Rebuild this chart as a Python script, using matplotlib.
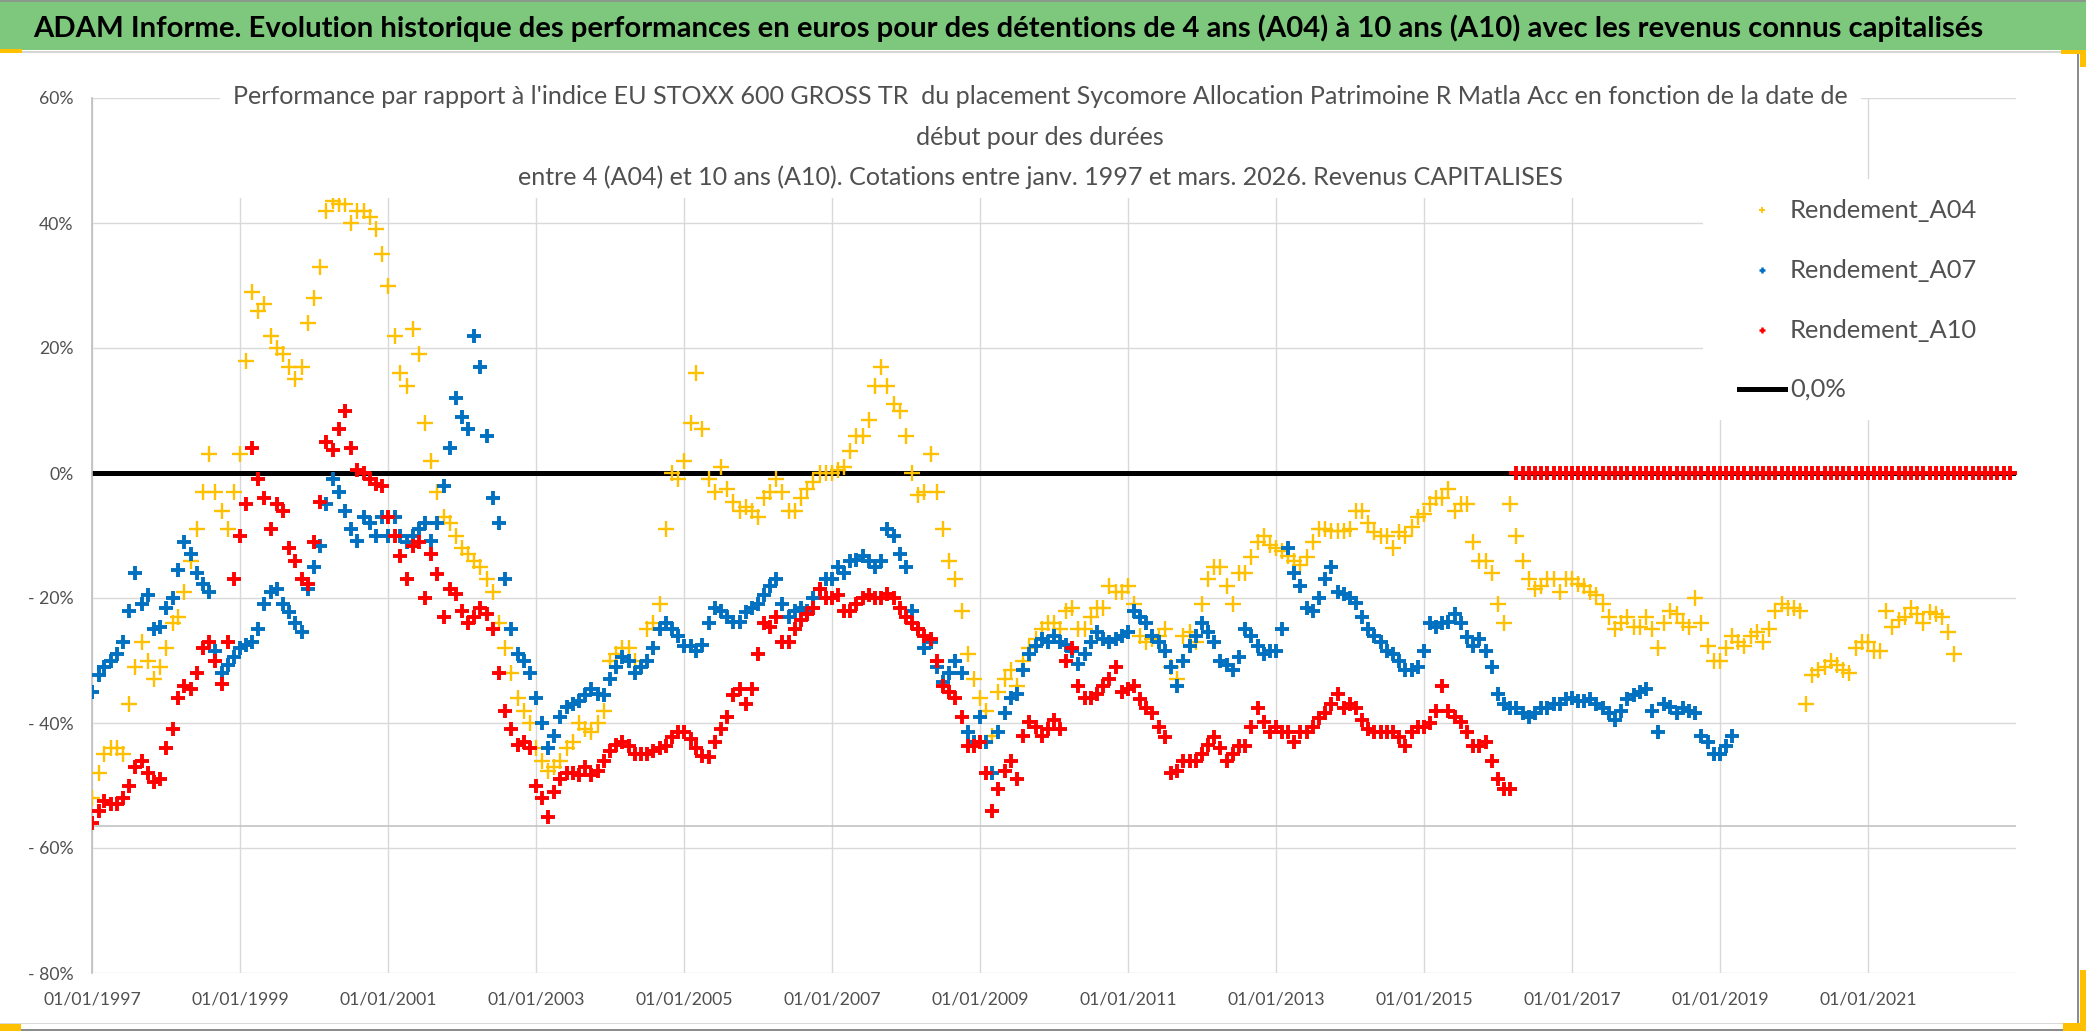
import numpy as np
import pandas as pd
import matplotlib
matplotlib.use("Agg")
import matplotlib.pyplot as plt
import matplotlib.dates as mdates
from matplotlib.patches import Rectangle
from matplotlib.lines import Line2D

# ---------------- data (monthly readings, % performance) ----------------
TITLE = ("ADAM Informe. Evolution historique des performances en euros pour des détentions "
         "de 4 ans (A04) à 10 ans (A10) avec les revenus connus capitalisés")
SUB1 = ("Performance par rapport à l'indice EU STOXX 600 GROSS TR  du placement Sycomore "
        "Allocation Patrimoine R Matla Acc en fonction de la date de")
SUB2 = "début pour des durées"
SUB3 = ("entre 4 (A04) et 10 ans (A10). Cotations entre janv. 1997 et mars. 2026. "
        "Revenus CAPITALISES")

START = "1997-01-01"

A04 = [
    -52, -48, -45, -44, -44, -45, -37, -31, -27, -30, -33, -31,          # 1997
    -28, -24, -23, -19, -14, -9, -3, 3, -3, -6, -9, -3,                  # 1998
    3, 18, 29, 26, 27, 22, 20, 19, 17, 15, 17, 24,                       # 1999
    28, 33, 42, 43.5, 43, 43, 40, 42, 42, 41, 39, 35,                    # 2000
    30, 22, 16, 14, 23, 19, 8, 2, -3, -7, -8, -10,                       # 2001
    -12, -13, -14, -15, -17, -19, -24, -28, -32, -36, -38, -40,          # 2002
    -44, -46, -47.6, -47, -46, -44, -43, -40, -41, -41.5, -40, -38,      # 2003
    -30, -29, -28, -28, -30, -31, -25, -24, -21, -9, 0, -1,              # 2004
    2, 8, 16, 7, -1, -3, 1, -2.5, -4.7, -6, -5.5, -6,                    # 2005
    -7, -4, -3, -1, -3, -6, -6, -4, -2.5, -1.5, 0, 0,                    # 2006
    0, 0.5, 1, 3.5, 6, 6, 8.5, 14, 17, 14, 11, 10,                       # 2007
    6, 0, -3.5, -3, 3, -3, -9, -14, -17, -22, -29, -33,                  # 2008
    -36, -38, -42, -35, -33, -31.5, -34, -30, -28, -26.5, -25, -24,      # 2009
    -24, -25, -22, -21.6, -25, -25, -23, -21.6, -21.6, -18, -19, -19,    # 2010
    -18, -21, -26, -27, -26.5, -26, -25, -31, -33, -26, -25.5, -27,      # 2011
    -21, -17, -15, -15, -18, -21, -16, -16, -13.5, -11, -10, -11.5,      # 2012
    -12, -12.5, -13.2, -14, -14.7, -13.5, -11, -9, -9, -9.3, -9.3, -9.3, # 2013
    -9, -6, -6, -8, -9.5, -10, -10, -12, -9.5, -10, -8.6, -7,            # 2014
    -6.5, -5, -4, -4, -2.5, -6, -5, -5, -11, -14, -14, -16,              # 2015
    -21, -24, -5, -10, -14, -17, -18.5, -18, -17, -17, -19, -17,         # 2016
    -17, -17.7, -18, -19, -19.5, -21, -23, -25, -24, -23, -24.6, -24.6,  # 2017
    -23, -25, -28, -24, -22, -22.5, -24, -24.6, -20, -24, -27.7, -30,    # 2018
    -30, -28, -26, -27, -27.7, -26, -25.4, -27, -25, -22, -21, -21.6,    # 2019
    -21.6, -22, -37, -32.3, -31.5, -31, -30, -30.7, -31.5, -32, -28, -27,  # 2020
    -27, -28.5, -28.5, -22, -24.6, -23.5, -23, -21.6, -22.5, -24, -22.3, -22.5,  # 2021
    -23, -25.4, -29,                                                     # 2022
]

A07 = [
    -35, -32.3, -31, -30, -29, -27, -22, -16, -21, -19.5, -25, -24.6,    # 1997
    -21.6, -20, -15.5, -11, -13, -16, -17.7, -19, -28.5, -32, -30.7, -29.5,  # 1998
    -28, -27.5, -27, -25, -21, -19, -18.5, -21, -22.3, -24, -25.4, -18.5,    # 1999
    -15, -11.6, -5, -1, -3, -6, -9, -10.9, -7, -8, -10, -7,              # 2000
    -10, -7, -10, -11, -10, -9, -8, -10.9, -8, -2, 4, 12,                # 2001
    9, 7, 22, 17, 6, -4, -8, -17, -25, -29, -30, -32,                    # 2002
    -36, -40, -44, -42, -39, -37.5, -37, -36.5, -35.5, -34.6, -35.3, -35.5,  # 2003
    -33, -31, -29.5, -30, -32, -31, -30, -28, -25, -24, -25, -26,        # 2004
    -27.7, -27.7, -28.5, -27.5, -24, -21.6, -22, -23, -23.9, -23.9, -22.3, -21.6,  # 2005
    -21, -19.5, -18, -17, -21, -23, -22, -21.6, -22, -20, -18.5, -17,    # 2006
    -17, -15, -16, -14, -13.9, -13.2, -14, -15, -14, -9, -10, -13,       # 2007
    -15, -22, -25, -28, -27, -31, -33.5, -32, -30, -32, -41.5, -43,      # 2008
    -39, -43, -48, -41.5, -38.4, -36, -35.3, -31.5, -29, -27.7, -26.5, -27,  # 2009
    -26, -27, -27.5, -28.5, -30.5, -29, -27, -25.4, -26.5, -27, -26.5, -26,  # 2010
    -25.5, -22, -23, -24, -26, -27, -28.5, -31, -34, -30, -27.7, -26,    # 2011
    -24, -25.4, -27, -30, -30.7, -31.5, -29.5, -25, -26, -27.7, -29, -28.5,  # 2012
    -28.5, -25, -12, -16, -18, -21.6, -22, -20, -17, -15, -19, -19.3,    # 2013
    -20, -20.8, -23, -25, -26, -27, -28.5, -29, -30, -31.5, -31.5, -31,  # 2014
    -28.5, -24, -24.6, -24, -23.9, -22.5, -24, -26.2, -27.7, -26.5, -28.5, -31,  # 2015
    -35.3, -37, -37.6, -37.6, -38.4, -39, -38.4, -37.6, -37.6, -37, -36.9, -36.1,  # 2016
    -36, -36.5, -36.5, -36.1, -37, -37.6, -38.4, -39.5, -38, -36.1, -35.5, -35,  # 2017
    -34.6, -38, -41.5, -37, -37.5, -38.4, -37.6, -38, -38.4, -42, -43, -45,  # 2018
    -45, -43.7, -42,                                                     # 2019
]

A10 = [
    -56, -54, -52.5, -53, -53, -52, -50, -47, -46, -48, -49.5, -49,      # 1997
    -44, -41, -36, -34, -34.6, -32, -28, -27, -30, -33.8, -27, -17,      # 1998
    -10, -5, 4, -1, -4, -9, -5, -6, -12, -14, -17, -17.7,                # 1999
    -11, -4.7, 5, 3.7, 7, 10, 4, 0.5, 0, -1, -1.7, -2,                   # 2000
    -7, -10, -13.2, -17, -11.6, -11, -20, -13, -16.2, -23, -18.5, -19.3, # 2001
    -22, -24, -23, -21.6, -22.5, -25, -32, -38, -41, -43.5, -43, -44,    # 2002
    -50, -52, -55, -51, -49, -48, -48, -48.3, -47, -48.3, -47.6, -46,    # 2003
    -44.5, -43.5, -43, -43.7, -45, -45, -44.9, -44.5, -44, -43.7, -42.2, -41.5,  # 2004
    -41.5, -42.5, -44, -45.3, -45.5, -43, -41, -39, -35.5, -34.6, -36.9, -34.6,  # 2005
    -29, -24, -24.6, -23, -27, -27, -25, -23.5, -22.5, -21.6, -18.5, -20,  # 2006
    -20, -19.5, -22, -22, -21, -20, -19.5, -20, -20, -19.3, -20, -21.6,  # 2007
    -23, -24, -25, -26, -26.5, -30, -34, -35, -36, -39, -43.7, -43.7,    # 2008
    -43, -48, -54, -50.6, -47.6, -46, -49, -42, -39.9, -40.7, -42, -41,  # 2009
    -39.5, -41, -30, -28, -34, -36, -36, -35.3, -34, -33, -31, -35,      # 2010
    -34.6, -34, -36.1, -37.6, -38.4, -40.7, -42.2, -48, -47.6, -46, -46, -46,  # 2011
    -45, -43.5, -42.2, -44, -46, -45, -43.7, -43.7, -40.7, -37.6, -39.9, -41.5,  # 2012
    -40.7, -41.5, -41.5, -43, -41.5, -41.5, -40.7, -39.2, -38.4, -36.9, -35.3, -37.6,  # 2013
    -37, -37.6, -39.5, -41, -41.5, -41.5, -41.5, -41.5, -42.2, -43.7, -41.5, -40.7,  # 2014
    -40.7, -40, -38, -34, -38, -39, -39.9, -41.5, -43.7, -43.7, -43, -46,  # 2015
    -49, -50.6, -50.6,                                                   # 2016 (Jan-Mar)
]
A10_ZERO_MONTHS = 81          # start dates Apr 2016 .. Dec 2022: no 10-year result -> 0
A10_FULL = A10 + [0.0] * A10_ZERO_MONTHS

ZERO_LEVEL = 0.0
AXIS_CROSS = -56.5
Y_TICKS = [60, 40, 20, 0, -20, -40, -60, -80]
Y_LABELS = ["60%", "40%", "20%", "0%", "- 20%", "- 40%", "- 60%", "- 80%"]
X_TICK_YEARS = list(range(1997, 2022, 2))
X_MIN, X_MAX = "1997-01-01", "2023-01-01"
LEGEND_LABELS = ["Rendement_A04", "Rendement_A07", "Rendement_A10", "0,0%"]
COLORS = {"A04": "#FFC000", "A07": "#0070C0", "A10": "#FF0000"}

# ---------------- figure ----------------
W, H = 2086, 1031
fig = plt.figure(figsize=(W / 100, H / 100), dpi=100)
fig.patch.set_facecolor("white")
FONT = ["Lato", "DejaVu Sans"]
plt.rcParams["font.family"] = FONT
GREY_TXT = "#505050"
renderer = fig.canvas.get_renderer()


def fx(x):
    return x / W


def fy(y):
    return 1 - y / H


def size_for(s, target_w, weight="normal"):
    t = fig.text(0, 0, s, fontsize=20, fontweight=weight)
    w = t.get_window_extent(renderer).width
    t.remove()
    return 20 * target_w / w


# banner
fig.patches.append(Rectangle((0, fy(50)), 1, 50 / H, transform=fig.transFigure,
                             facecolor="#7DC87D", edgecolor="none", zorder=0))
fig.patches.append(Rectangle((0, fy(2)), 1, 2 / H, transform=fig.transFigure,
                             facecolor="#8A9A8A", edgecolor="none", zorder=0))
fig.patches.append(Rectangle((0, fy(53)), fx(2078), 2 / H, transform=fig.transFigure,
                             facecolor="#D6D6D6", edgecolor="none", zorder=0))
fs_title = size_for(TITLE, 1951, "bold")
fig.text(fx(33), fy(28), TITLE, fontsize=fs_title, fontweight="bold", color="black",
         ha="left", va="center", zorder=5)

# axes
ax = fig.add_axes([fx(92.3), fy(973), fx(2016) - fx(92.3), (973 - 98) / H])
ax.set_facecolor("white")

dates04 = pd.date_range(START, periods=len(A04), freq="MS")
dates07 = pd.date_range(START, periods=len(A07), freq="MS")
dates10 = pd.date_range(START, periods=len(A10_FULL), freq="MS")

ax.axhline(ZERO_LEVEL, color="black", lw=3.6, zorder=2)
ax.axhline(AXIS_CROSS, color="#C4C4C4", lw=1.2, zorder=1.5)
ax.plot(dates04, A04, ls="none", marker="+", ms=12, mew=1.7, color=COLORS["A04"], zorder=3)
ax.plot(dates07, A07, ls="none", marker="+", ms=10.5, mew=2.8, color=COLORS["A07"], zorder=4)
ax.plot(dates10, A10_FULL, ls="none", marker="+", ms=10.5, mew=2.8, color=COLORS["A10"], zorder=5)

ax.set_ylim(-80, 60)
ax.set_xlim(pd.Timestamp(X_MIN), pd.Timestamp(X_MAX))
ax.set_yticks(Y_TICKS)
ax.set_yticklabels(Y_LABELS)
ax.set_xticks([pd.Timestamp(f"{y}-01-01") for y in X_TICK_YEARS])
ax.xaxis.set_major_formatter(mdates.DateFormatter("%d/%m/%Y"))
ax.grid(True, color="#D9D9D9", lw=1.0, zorder=0)
ax.set_axisbelow(True)
for s in ["top", "right", "bottom"]:
    ax.spines[s].set_visible(False)
ax.spines["left"].set_color("#BFBFBF")
ax.spines["left"].set_linewidth(1.2)

fs_tick = size_for("01/01/1997", 98)
ax.tick_params(axis="both", length=0, labelsize=fs_tick, labelcolor=GREY_TXT)
ax.tick_params(axis="x", pad=13)
ax.tick_params(axis="y", pad=13.5)

# chart title box (hides grid behind it)
fig.patches.append(Rectangle((fx(220), fy(198)), fx(1861) - fx(220), (198 - 76) / H,
                             transform=fig.transFigure, facecolor="white",
                             edgecolor="none", zorder=1))
fs_sub = size_for(SUB1, 1623)
for s, yy in [(SUB1, 97), (SUB2, 137), (SUB3, 177)]:
    fig.text(fx(1040), fy(yy), s, fontsize=fs_sub, color=GREY_TXT,
             ha="center", va="center", zorder=5)

# legend box
fig.patches.append(Rectangle((fx(1703), fy(420)), fx(2016) - fx(1703), (420 - 179) / H,
                             transform=fig.transFigure, facecolor="white",
                             edgecolor="none", zorder=1))
fs_leg = size_for("Rendement_A04", 188)
leg_y = [210, 270, 330, 389]
for key, lab, yy in zip(["A04", "A07", "A10"], LEGEND_LABELS[:3], leg_y[:3]):
    fig.add_artist(Line2D([fx(1762)], [fy(yy)], transform=fig.transFigure, ls="none",
                          marker="+", ms=5, mew=1.3 if key == "A04" else 1.8,
                          color=COLORS[key], zorder=5))
    fig.text(fx(1790), fy(yy), lab, fontsize=fs_leg, color=GREY_TXT,
             ha="left", va="center", zorder=5)
fig.add_artist(Line2D([fx(1739), fx(1785)], [fy(389), fy(389)], transform=fig.transFigure,
                      color="black", lw=3.6, zorder=5))
fig.text(fx(1790), fy(389), LEGEND_LABELS[3], fontsize=fs_leg, color=GREY_TXT,
         ha="left", va="center", zorder=5)

# outer frame of the sheet selection
fig.patches.append(Rectangle((fx(2077), 0), 2 / W, fy(53), transform=fig.transFigure,
                             facecolor="#8C8C8C", edgecolor="none", zorder=2))
fig.patches.append(Rectangle((0, 0), fx(2079), 2 / H, transform=fig.transFigure,
                             facecolor="#8C8C8C", edgecolor="none", zorder=2))
fig.patches.append(Rectangle((0, fy(1024)), fx(2077), 1.5 / H, transform=fig.transFigure,
                             facecolor="#D9D9D9", edgecolor="none", zorder=2))
for (x0, y0, w, h) in [(0, 49, 22, 4), (2061, 50, 25, 4), (2080, 50, 6, 17),
                       (2080, 970, 6, 61), (2063, 1023, 23, 8), (0, 1024, 21, 7)]:
    fig.patches.append(Rectangle((fx(x0), fy(y0 + h)), w / W, h / H,
                                 transform=fig.transFigure, facecolor="#FFC000",
                                 edgecolor="none", zorder=3))

fig.savefig("out.png", dpi=100, facecolor="white")
